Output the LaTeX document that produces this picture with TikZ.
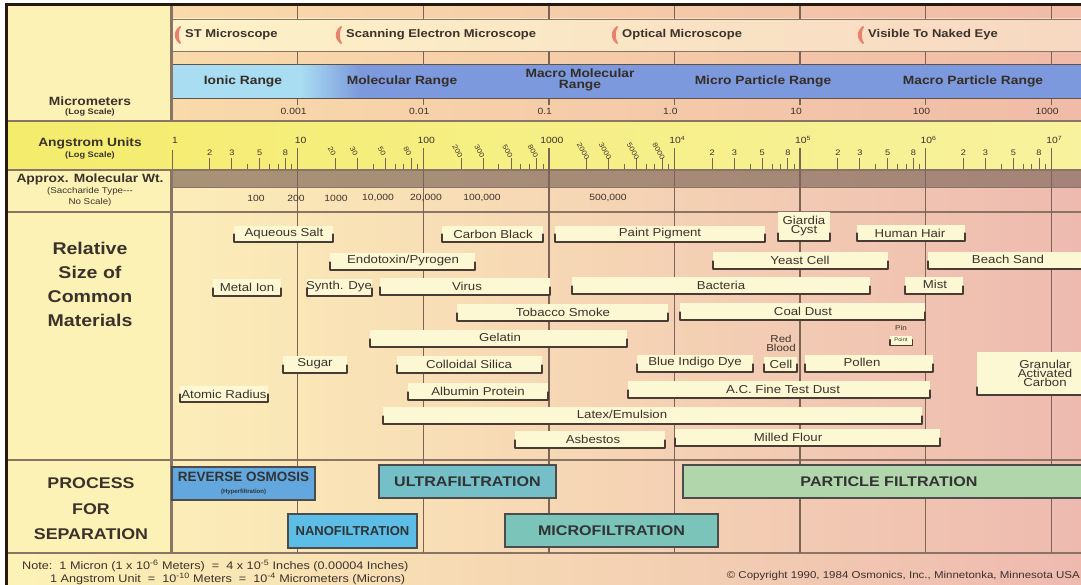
\documentclass[tikz,border=0pt]{standalone}
\usepackage{fontspec}
\setmainfont{Liberation Sans}
\newfontfamily\cf[FakeStretch=1.15]{Liberation Sans}
\newfontfamily\cfn{Liberation Sans}
\usetikzlibrary{calc}
\definecolor{txt}{HTML}{3C322C}
\definecolor{leftbg}{HTML}{FCF2B6}
\definecolor{chA}{HTML}{FCEDB8}
\definecolor{chB}{HTML}{F8D0A8}
\definecolor{chC}{HTML}{EEBAB0}
\definecolor{stA}{HTML}{F9DAAA}
\definecolor{stB}{HTML}{F0BBA8}
\definecolor{mbA}{HTML}{FDF2C8}
\definecolor{mbB}{HTML}{F7D8C2}
\definecolor{cyanL}{HTML}{A9DDF2}
\definecolor{blueM}{HTML}{7B99DC}
\definecolor{blueL}{HTML}{8FA8E0}
\definecolor{angA}{HTML}{F4EC6C}
\definecolor{angB}{HTML}{F8F29E}
\definecolor{brA}{HTML}{A89276}
\definecolor{brB}{HTML}{A48478}
\definecolor{sep}{HTML}{8A7466}
\definecolor{dec}{HTML}{7A6458}
\definecolor{cream}{HTML}{FCF8D4}
\definecolor{brk}{HTML}{4A3C34}
\definecolor{mk}{HTML}{E8826E}
\definecolor{roC}{HTML}{62A8DE}
\definecolor{nfC}{HTML}{5CBDE6}
\definecolor{ufC}{HTML}{74BFC8}
\definecolor{mfC}{HTML}{7AC4BA}
\definecolor{pfC}{HTML}{B2D6AC}
\newcommand\fsz[1]{\fontsize{#1}{#1}\selectfont}
\tikzset{
  lbl/.style={inner sep=0pt, text=txt, font=\cf\bfseries\fsz{12}, align=center},
  sublbl/.style={inner sep=0pt, text=txt, font=\cf\bfseries\fsz{8}, align=center},
  mscope/.style={inner sep=0pt, anchor=west, text=txt, font=\cf\bfseries\fsz{11.3}},
  rng/.style={inner sep=0pt, text=txt!90!black, font=\cf\bfseries\fsz{12}, align=center},
  sclab/.style={inner sep=0pt, text=txt, font=\cf\fsz{9}},
  anglab/.style={inner sep=0pt, text=txt, font=\cf\fsz{8}},
  matbox/.style={fill=cream, inner sep=0pt, draw=none},
  mattxt/.style={inner sep=0pt, text=txt, font=\cf\fsz{11.5}, align=center},
  brkline/.style={draw=brk, line width=1.8pt, line cap=round, line join=round},
  proc/.style={draw=black!70, line width=1.3pt, inner sep=0pt, text=black!80, font=\cf\bfseries\fsz{14}, align=center},
  hline/.style={draw=sep, line width=1.4pt},
  decline/.style={draw=dec, line width=1.4pt},
  tickl/.style={draw=dec, line width=0.9pt},
}
\newcommand\matbar[8]{%
  \node[matbox, minimum width={#3-#2}, minimum height={#5-#4}] (#1) at ({(#2+#3)/2},{(#4+#5)/2}) {};
  \node[mattxt] (#1-t) at (#6,#7) {#8};
  \draw[brkline] ($(#1.south west)+(0,-7)$) |- ($(#1.south east)+(0,1)$) -- ++(0,-8);
}
\begin{document}
\begin{tikzpicture}[x=1pt,y=-1pt]
\useasboundingbox (0,0) rectangle (1081,585);
\clip (0,0) rectangle (1081,585);
\fill[white] (0,0) rectangle (1081,585);
% backgrounds
\fill[leftbg] (7,5) rectangle (172,553);
\shade[left color=chA, middle color=chB, right color=chC] (172,5) rectangle (1081,553);
\shade[left color=leftbg, middle color=chB, right color=chC] (7,553) rectangle (1081,585);
\shade[left color=stA, right color=stB] (172,5) rectangle (1081,19);
\shade[left color=stA, right color=stB] (172,51) rectangle (1081,65);
\shade[left color=stA, right color=stB] (172,99) rectangle (1081,121);
\shade[left color=mbA, right color=mbB] (172,19) rectangle (1081,51);
% range band
\begin{scope}
\clip (172,65.5) rectangle (1081,99);
\fill[cyanL] (172,65) rectangle (301,99);
\fill[blueM] (359,65) rectangle (1081,99);
\shade[left color=cyanL, right color=blueM] (300,60) rectangle (360,104);
\shade[left color=blueM, middle color=blueL, right color=blueM] (500,60) rectangle (680,104);
\end{scope}
% angstrom row
\shade[left color=angA, right color=angB] (7,121) rectangle (1081,170);
% brown band
\shade[left color=brA, right color=brB] (172,170) rectangle (1081,187);
% horizontal lines
\draw[sep, line width=0.8pt] (172,19) -- (1081,19) (172,51) -- (1081,51);
\draw[sep!70!black, line width=1pt] (172,65) -- (1081,65) (172,99) -- (1081,99);
\draw[hline] (7,121) -- (1081,121);
\draw[hline] (7,170) -- (1081,170);
\draw[sep, line width=0.6pt] (172,187) -- (1081,187);
\draw[hline] (7,212) -- (1081,212);
\draw[hline] (7,460) -- (1081,460);
\draw[hline] (7,553) -- (1081,553);
% decade lines
\foreach \k in {1,...,7}{
  \pgfmathsetmacro\xx{172+125.6*\k}
  \draw[decline] (\xx,5) -- (\xx,19);
  \draw[decline] (\xx,51) -- (\xx,65);
  \draw[decline] (\xx,99) -- (\xx,105);
  \draw[decline] (\xx,148) -- (\xx,553);
}
\draw[tickl, line width=0.6pt] (172,150) -- (172,169);
% left separator and frame
\draw[sep, line width=3pt] (171,5) -- (171,121);
\draw[sep, line width=3pt] (171,170) -- (171,553);
\draw[black!80!brown, line width=3pt] (6,585) -- (6,4.5) -- (1081,4.5);
% angstrom ticks
\foreach \k in {0,...,6}{
  \foreach \m in {2,...,9}{
    \pgfmathsetmacro\xx{172+125.6*(\k+log10(\m))}
    \draw[tickl] (\xx,169) -- (\xx,164);
  }
  \foreach \m in {2,3,5,8}{
    \pgfmathsetmacro\xx{172+125.6*(\k+log10(\m))}
    \draw[tickl] (\xx,169) -- (\xx,158);
  }
}
\foreach \k in {0,4,5,6}{
  \foreach \m in {2,3,5,8}{
    \pgfmathsetmacro\xx{172+125.6*(\k+log10(\m))}
    \node[anglab] (al-\k-\m) at (\xx,153) {\m};
  }
}
\foreach \k/\z in {1/0,2/00,3/000}{
  \foreach \m in {2,3,5,8}{
    \pgfmathsetmacro\xx{172+125.6*(\k+log10(\m))-3.5}
    \node[anglab, font=\cf\fsz{7}, rotate=-60] (ar-\k-\m) at (\xx,151) {\m\z};
  }
}
\foreach \k/\l in {0/1,1/10,2/100,3/1000,4/{10\textsuperscript{4}},5/{10\textsuperscript{5}},6/{10\textsuperscript{6}},7/{10\textsuperscript{7}}}{
  \pgfmathsetmacro\xx{172+125.6*\k+3}
  \node[sclab] (am-\k) at (\xx,140) {\l};
}
% micrometer labels
\foreach \k/\l in {1/0.001,2/0.01,3/0.1,4/1.0,5/10,6/100,7/1000}{
  \pgfmathsetmacro\xx{172+125.6*\k-4}
  \node[sclab] (um-\k) at (\xx,111) {\l};
}
% molecular weight labels
\foreach \x/\l [count=\i] in {256/100,296/200,336/1000,378/{10,000},426/{20,000},482/{100,000},608/{500,000}}{
  \node[sclab] (mw-\i) at (\x,198) {\l};
}
% microscope marks and labels
\foreach \x/\l [count=\i] in {174/ST Microscope,335/Scanning Electron Microscope,611/Optical Microscope,857/Visible To Naked Eye}{
  \fill[mk] (\x+6,26) .. controls (\x-1,31) and (\x-1,39) .. (\x+6,44) -- (\x+7,43) .. controls (\x+4,39) and (\x+4,31) .. (\x+7,27) -- cycle;
  \node[mscope] (ms-\i) at (\x+11,35) {\l};
}
% range labels
\node[rng] (r1) at (243,81) {Ionic Range};
\node[rng] (r2) at (402,81) {Molecular Range};
\node[rng] (r3) at (580,80) {Macro Molecular\\[-1pt]Range};
\node[rng] (r4) at (763,81) {Micro Particle Range};
\node[rng] (r5) at (973,81) {Macro Particle Range};
% left column labels
\node[lbl] (l1) at (90,101) {Micrometers};
\node[sublbl] (l1s) at (90,112) {(Log Scale)};
\node[lbl] (l2) at (90,143) {Angstrom Units};
\node[sublbl] (l2s) at (90,155) {(Log Scale)};
\node[lbl] (l3) at (90,179) {Approx. Molecular Wt.};
\node[sublbl, font=\cf\fsz{8.5}] (l3s) at (90,191) {(Saccharide Type---};
\node[sublbl, font=\cf\fsz{8.5}] (l3t) at (90,202) {No Scale)};
\node[lbl, font=\cf\bfseries\fsz{17}, text height=13pt] (l4) at (90,320) {Relative\\[7pt]Size of\\[7pt]Common\\[7pt]Materials};
\node[lbl, font=\cf\bfseries\fsz{15.5}] (l5) at (91,509) {PROCESS\\[10pt]FOR\\[10pt]SEPARATION};
% materials
\matbar{aq}{234}{333}{226}{241}{284}{234}{Aqueous Salt}
\matbar{cb}{442}{543}{226}{241}{493}{234}{Carbon Black}
\matbar{pp}{555}{765}{226}{241}{660}{234}{Paint Pigment}
\matbar{gc}{778}{830}{212}{240}{804}{226}{Giardia\\[-2pt]Cyst}
\matbar{hh}{857}{965}{225}{240}{910}{233}{Human Hair}
\matbar{en}{330}{475}{253}{269}{403}{261}{Endotoxin/Pyrogen}
\matbar{ye}{713}{888}{252}{268}{800}{260}{Yeast Cell}
\matbar{bs}{928}{1095}{252}{268}{1008}{259}{Beach Sand}
\matbar{mi}{213}{281}{279}{295}{247}{287}{Metal Ion}
\matbar{sd}{307}{372}{279}{295}{339}{287}{Synth. Dye}
\matbar{vi}{380}{550}{278}{294}{467}{286}{Virus}
\matbar{ba}{572}{870}{277}{293}{721}{285}{Bacteria}
\matbar{mt}{905}{963}{277}{293}{935}{284}{Mist}
\matbar{ts}{457}{668}{304}{320}{563}{312}{Tobacco Smoke}
\matbar{cd}{680}{925}{303}{319}{803}{311}{Coal Dust}
\matbar{ge}{370}{627}{330}{346}{500}{337}{Gelatin}
\node[matbox, minimum width=22, minimum height=9] (pin) at (901,340) {};
\node[mattxt, font=\cf\fsz{5}] (pin-t) at (901,340) {Point};
\draw[brkline, line width=1.4pt] ($(pin.south west)+(0,-5)$) |- ($(pin.south east)+(0,1)$) -- ++(0,-6);
\node[mattxt, font=\cf\fsz{7}] (pin-l) at (901,328) {Pin};
\matbar{su}{283}{347}{356}{372}{315}{364}{Sugar}
\matbar{cs}{397}{542}{356}{372}{469}{364}{Colloidal Silica}
\matbar{bi}{637}{753}{355}{371}{695}{363}{Blue Indigo Dye}
\matbar{rb}{764}{797}{357}{371}{781}{364}{Cell}
\node[mattxt, font=\cf\fsz{10}] (rb-l) at (781,343) {Red\\[-1pt]Blood};
\matbar{po}{805}{933}{355}{371}{862}{362}{Pollen}
\matbar{gac}{977}{1095}{352}{394}{1045}{373}{Granular\\[-2.5pt]Activated\\[-2.5pt]Carbon}
\matbar{ar}{180}{268}{386}{401}{224}{394}{Atomic Radius}
\matbar{ap}{408}{548}{383}{399}{478}{391}{Albumin Protein}
\matbar{ac}{628}{930}{381}{397}{783}{389}{A.C. Fine Test Dust}
\matbar{le}{383}{922}{407}{423}{622}{414}{Latex/Emulsion}
\matbar{as}{515}{665}{431}{447}{593}{439}{Asbestos}
\matbar{mf}{675}{940}{429}{445}{788}{437}{Milled Flour}
% process boxes
\node[proc, fill=roC, minimum width=143, minimum height=33, font=\cfn\bfseries\fsz{13.5}] (ro) at (243.5,483.5) {REVERSE OSMOSIS\\[-2pt]{\fsz{6}(Hyperfiltration)}};
\node[proc, fill=ufC, minimum width=177, minimum height=33] (uf) at (467.5,481.5) {ULTRAFILTRATION};
\node[proc, fill=pfC, minimum width=412, minimum height=33] (pf) at (889,481.5) {PARTICLE FILTRATION};
\node[proc, fill=nfC, minimum width=129, minimum height=34, font=\cfn\bfseries\fsz{13}] (nf) at (352.5,531) {NANOFILTRATION};
\node[proc, fill=mfC, minimum width=213, minimum height=33] (mf2) at (611.5,530.5) {MICROFILTRATION};
% notes
\node[sclab, anchor=west, font=\cf\fsz{11}] (n1) at (22,566) {Note:\ \ 1 Micron (1 x 10\textsuperscript{-6} Meters) \ = \ 4 x 10\textsuperscript{-5} Inches (0.00004 Inches)};
\node[sclab, anchor=west, font=\cf\fsz{11}] (n2) at (50,578.5) {1 Angstrom Unit \ = \ 10\textsuperscript{-10} Meters \ = \ 10\textsuperscript{-4} Micrometers (Microns)};
\node[sclab, anchor=east, font=\cf\fsz{10}] (cp) at (1080,576) {\textcopyright\ Copyright 1990, 1984 Osmonics, Inc., Minnetonka, Minnesota USA};
\end{tikzpicture}
\end{document}
